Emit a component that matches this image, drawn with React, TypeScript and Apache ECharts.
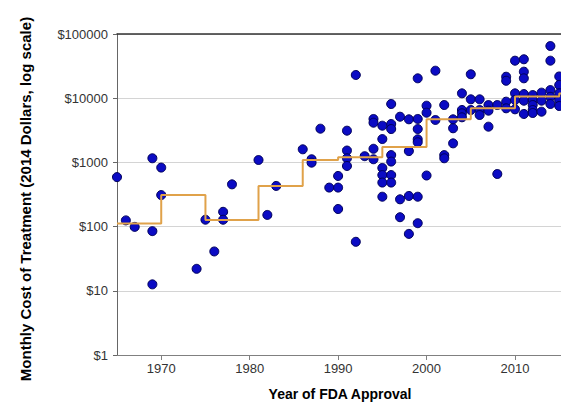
import React, { useEffect, useRef } from "react";
import * as echarts from "echarts";

// Year of FDA approval and monthly cost (2014 dollars) for each drug
const approvalYears = [
  1965, 1966, 1967,
  1969, 1969, 1969,
  1970, 1970,
  1974, 1975, 1976, 1977, 1977, 1978,
  1981, 1982, 1983,
  1986, 1987, 1987, 1988, 1989,
  1990, 1990, 1990,
  1991, 1991, 1991, 1991,
  1992, 1992, 1993,
  1994, 1994, 1994, 1994,
  1995, 1995, 1995, 1995, 1995, 1995,
  1996, 1996, 1996, 1996, 1996, 1996, 1996,
  1997, 1997, 1997,
  1998, 1998, 1998, 1998,
  1999, 1999, 1999, 1999, 1999, 1999, 1999,
  2000, 2000, 2000,
  2001, 2001,
  2002, 2002, 2002,
  2003, 2003, 2003,
  2004, 2004, 2004, 2004,
  2005, 2005, 2005,
  2006, 2006, 2006,
  2007, 2007, 2007,
  2008, 2008,
  2009, 2009, 2009, 2009,
  2010, 2010, 2010, 2010,
  2011, 2011, 2011, 2011, 2011, 2011,
  2012, 2012, 2012, 2012, 2012,
  2013, 2013, 2013,
  2014, 2014, 2014, 2014, 2014,
  2015, 2015, 2015, 2015, 2015,
];
const monthlyCosts = [
  590, 125, 99,
  1160, 85, 12.6,
  830, 310,
  22, 128, 41, 170, 128, 455,
  1090, 152, 430,
  1600, 1120, 990, 3350, 405,
  615, 405, 188,
  3120, 1530, 1160, 880,
  23000, 58, 1250,
  4750, 4150, 1630, 1120,
  3730, 2310, 820, 635, 485, 292,
  8120, 3960, 3310, 1300, 1030, 635, 485,
  5150, 266, 140,
  4690, 1500, 300, 77,
  20400, 4750, 3310, 2290, 2060, 292, 113,
  7640, 5940, 625,
  26800, 4580,
  7830, 1300, 1160,
  4690, 3400, 1980,
  11900, 6550, 5820, 5040,
  23600, 9610, 6550,
  9610, 6550, 5470,
  7830, 6390, 3600,
  7830, 660,
  21600, 18700, 8830, 6960,
  38400, 11900, 9370, 6710,
  40400, 25900, 20400, 11600, 9140, 5680,
  11200, 9370, 7830, 6550, 5880,
  12200, 9140, 6160,
  65000, 38400, 13400, 10500, 8120,
  21800, 16100, 11900, 9370, 7560,
];

// Median monthly cost by period (step line)
const stepStartYears = [1965, 1970, 1975, 1981, 1986, 1990, 1995, 2000, 2005, 2010, 2015];
const stepMedianCosts = [112, 310, 127, 428, 1090, 1200, 1740, 4700, 6960, 10600, 11800];

const xTickYears = [1970, 1980, 1990, 2000, 2010];
const xMin = 1965;
const xMax = 2015.2;
const yMin = 1;
const yMax = 100000;

export default function App() {
  const ref = useRef<HTMLDivElement>(null);

  useEffect(() => {
    document.body.style.margin = "0";
    if (!ref.current) return;
    const chart = echarts.init(ref.current, undefined, { renderer: "svg" });

    const points = approvalYears.map((y, i) => [y, monthlyCosts[i]]);
    const steps = stepStartYears.map((y, i) => [y, stepMedianCosts[i]]);
    steps.push([xMax, stepMedianCosts[stepMedianCosts.length - 1]]);

    const font = "'Liberation Sans', Arial, sans-serif";

    chart.setOption({
      animation: false,
      backgroundColor: "#ffffff",
      grid: { left: 117, right: 0, top: 34, bottom: 50, containLabel: false },
      xAxis: [
        {
          type: "value",
          min: xMin,
          max: xMax,
          axisLine: { show: true, lineStyle: { color: "#808080", width: 1 } },
          axisTick: {
            show: true,
            length: 5,
            customValues: xTickYears,
            lineStyle: { color: "#808080" },
          },
          axisLabel: {
            customValues: xTickYears,
            margin: 7,
            color: "#333",
            fontSize: 13,
            fontFamily: font,
            formatter: (v: number) => String(Math.round(v)),
          },
          splitLine: { show: false },
        },
        {
          type: "value",
          position: "top",
          min: xMin,
          max: xMax,
          axisLine: { show: true, lineStyle: { color: "#333", width: 1.5 } },
          axisTick: { show: false },
          axisLabel: { show: false },
          splitLine: { show: false },
        },
      ],
      yAxis: {
        type: "log",
        logBase: 10,
        min: yMin,
        max: yMax,
        axisLine: { show: true, lineStyle: { color: "#666", width: 1 } },
        axisTick: { show: true, length: 4, inside: false, lineStyle: { color: "#666" } },
        axisLabel: {
          margin: 9,
          color: "#333",
          fontSize: 13,
          fontFamily: font,
          formatter: (v: number) => "$" + Math.round(v),
        },
        splitLine: { show: true, lineStyle: { color: "#d4d4d4", width: 1 } },
        minorTick: { show: false },
      },
      graphic: [
        {
          type: "text",
          x: 25,
          y: 199,
          rotation: Math.PI / 2,
          style: {
            text: "Monthly Cost of Treatment (2014 Dollars, log scale)",
            font: `bold 15px ${font}`,
            fill: "#000",
            align: "center",
            verticalAlign: "middle",
          },
        },
        {
          type: "text",
          x: 340,
          y: 394,
          style: {
            text: "Year of FDA Approval",
            font: `bold 14px ${font}`,
            fill: "#000",
            align: "center",
            verticalAlign: "middle",
          },
        },
      ],
      series: [
        {
          type: "scatter",
          data: points,
          symbol: "circle",
          symbolSize: 9,
          clip: false,
          itemStyle: { color: "#0b0bc4", borderColor: "#00005a", borderWidth: 1, opacity: 1 },
          z: 2,
        },
        {
          type: "line",
          data: steps,
          step: "end",
          showSymbol: false,
          symbol: "none",
          lineStyle: { color: "#e0a24a", width: 2 },
          z: 3,
        },
      ],
    });

    return () => chart.dispose();
  }, []);

  return <div ref={ref} style={{ width: 561, height: 405 }} />;
}
